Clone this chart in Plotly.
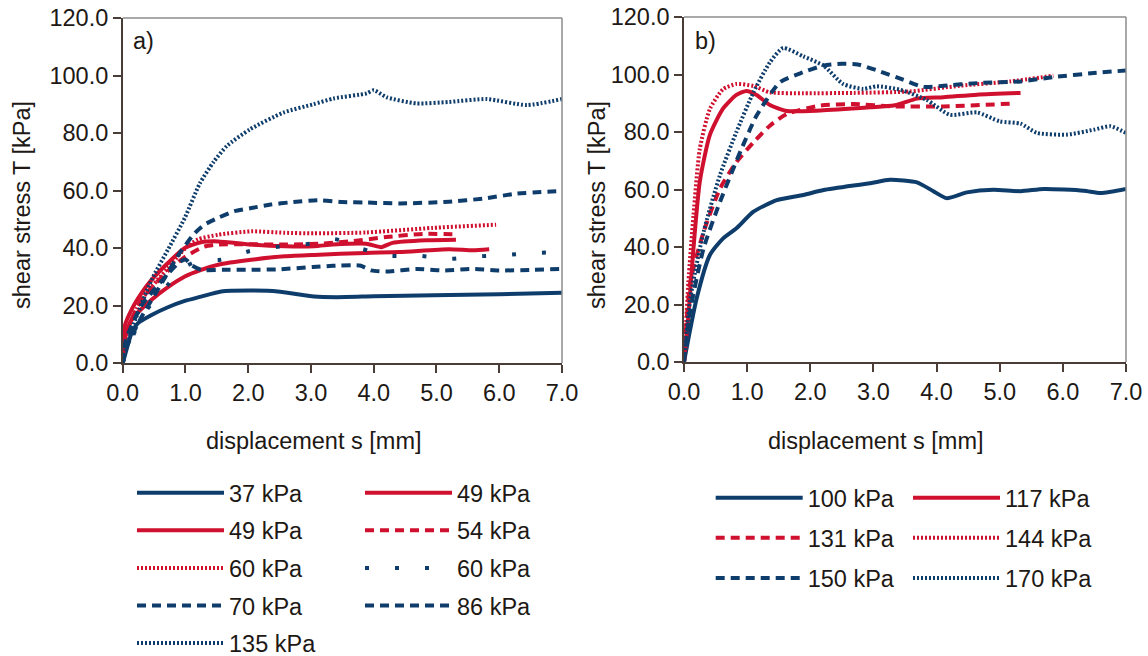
import plotly.graph_objects as go
from plotly.subplots import make_subplots

# figure is taller than the window so the legends at the bottom never push the margins
W, H = 1148, 700
NAVY = "#0f3d6b"
RED = "#d0102f"
FONT = "Liberation Sans, Arial, sans-serif"
TXT = "#201814"
FS = 23.5

# ---- panel a) : displacement s [mm] / shear stress T [kPa]
s37 = [0, 0.03, 0.14, 0.24, 0.46, 0.72, 0.99, 1.25, 1.57, 2.05, 2.47, 3.05, 3.41, 4.0, 4.95, 6.0, 7.0]
t37 = [0, 2.2, 10.4, 13.8, 16.7, 19.4, 21.6, 23.1, 24.9, 25.2, 24.9, 23.1, 22.9, 23.2, 23.6, 23.9, 24.4]

s49a = [0, 0.03, 0.14, 0.3, 0.46, 0.72, 0.99, 1.25, 1.52, 2.05, 2.58, 3.05, 3.35, 3.88, 4.12, 4.3, 4.84, 5.31]
t49a = [0, 12.7, 18.5, 24.3, 28.9, 34.8, 40.0, 42.0, 42.3, 41.2, 40.6, 40.6, 41.2, 41.5, 40.3, 41.8, 42.7, 42.9]

s49b = [0, 0.03, 0.14, 0.46, 0.72, 0.99, 1.25, 1.52, 2.05, 2.58, 3.05, 3.88, 4.41, 5.2, 5.58, 5.84]
t49b = [0, 8.0, 15.0, 22.0, 26.4, 30.1, 32.4, 34.2, 35.9, 37.1, 37.6, 38.3, 38.6, 39.6, 39.2, 39.6]

s54 = [0, 0.05, 0.3, 0.72, 1.0, 1.3, 1.5, 2.0, 2.6, 3.14, 3.62, 4.2, 4.78, 5.3]
t54 = [0, 10.0, 22.0, 32.0, 37.0, 40.5, 41.2, 41.3, 41.2, 41.5, 42.3, 43.8, 44.9, 44.8]

s60r = [0, 0.05, 0.3, 0.72, 1.0, 1.2, 1.52, 2.05, 2.58, 3.05, 3.88, 4.94, 5.95]
t60r = [0, 10.0, 22.0, 33.0, 40.0, 43.0, 44.6, 45.8, 45.3, 45.1, 45.4, 47.0, 48.1]

s60n = [0, 0.3, 0.72, 0.96, 1.2, 1.56, 2.0, 2.5, 3.0, 3.38, 3.8, 4.25, 4.73, 5.2, 5.67, 6.13, 6.6, 6.9]
t60n = [0, 16.0, 27.2, 33.0, 35.5, 35.9, 38.8, 40.5, 41.5, 43.1, 39.8, 37.3, 37.3, 36.2, 37.1, 37.6, 38.3, 38.5]

s70 = [0, 0.05, 0.3, 0.6, 0.9, 1.0, 1.1, 1.25, 1.6, 2.05, 2.5, 3.03, 3.35, 3.78, 3.96, 4.2, 4.68, 5.1, 5.58, 6.0, 6.53, 6.96]
t70 = [0, 8.0, 20.0, 28.0, 35.0, 36.0, 34.0, 32.4, 32.4, 32.4, 32.6, 33.4, 33.8, 33.9, 32.2, 31.8, 32.7, 32.2, 32.7, 32.2, 32.4, 32.7]

s86 = [0, 0.05, 0.3, 0.6, 0.9, 1.15, 1.3, 1.52, 1.78, 2.05, 2.36, 2.68, 3.14, 3.5, 3.89, 4.42, 5.2, 5.75, 6.28, 7.0]
t86 = [0, 5.0, 16.0, 27.0, 38.0, 45.2, 48.1, 50.5, 52.8, 53.9, 55.1, 55.9, 56.6, 56.0, 55.8, 55.5, 56.1, 57.2, 58.9, 59.8]

s135 = [0, 0.05, 0.2, 0.46, 0.72, 0.99, 1.23, 1.45, 1.66, 2.03, 2.56, 3.04, 3.36, 3.89, 4.0, 4.21, 4.68, 5.2, 5.8, 6.44, 7.0]
t135 = [0, 5.0, 15.0, 28.9, 39.4, 50.5, 62.5, 70.0, 75.5, 81.3, 87.1, 90.0, 92.0, 93.8, 94.9, 92.4, 90.3, 90.8, 91.8, 89.7, 91.8]

# ---- panel b)
s100 = [0, 0.2, 0.41, 0.62, 0.83, 1.1, 1.47, 1.89, 2.21, 2.95, 3.26, 3.69, 3.95, 4.16, 4.48, 4.9, 5.33, 5.7, 6.33, 6.6, 7.0]
t100 = [0, 22.1, 37.2, 43.0, 46.5, 52.3, 56.3, 58.1, 59.8, 62.2, 63.4, 62.5, 59.4, 57.0, 59.0, 59.9, 59.4, 60.2, 59.6, 58.8, 60.2]

s117 = [0, 0.07, 0.15, 0.25, 0.41, 0.62, 0.83, 0.99, 1.15, 1.36, 1.63, 2.16, 2.95, 3.32, 3.47, 3.69, 4.11, 4.64, 5.33]
t117 = [0, 16.3, 39.5, 62.7, 79.0, 88.2, 92.9, 94.3, 92.9, 89.4, 87.3, 87.5, 88.6, 89.2, 90.1, 91.6, 92.1, 93.0, 93.6]

s131 = [0, 0.1, 0.31, 0.57, 0.83, 1.1, 1.36, 1.63, 2.16, 2.69, 3.32, 4.11, 5.22]
t131 = [0, 27.9, 45.2, 60.3, 69.5, 76.4, 82.2, 86.3, 89.2, 89.7, 88.9, 88.9, 89.9]

s144 = [0, 0.07, 0.15, 0.25, 0.41, 0.62, 0.83, 1.1, 1.36, 1.89, 2.69, 3.58, 4.37, 5.17, 5.85]
t144 = [0, 27.9, 51.0, 74.1, 88.0, 94.9, 96.7, 96.0, 93.8, 93.5, 93.6, 94.1, 96.1, 97.6, 99.6]

s150 = [0, 0.1, 0.31, 0.57, 0.91, 1.15, 1.52, 1.89, 2.21, 2.5, 2.75, 3.1, 3.47, 3.79, 4.11, 4.64, 5.33, 5.85, 6.49, 7.0]
t150 = [0, 18.0, 39.5, 55.7, 74.1, 85.7, 97.3, 100.8, 103.1, 103.7, 103.5, 101.1, 98.2, 95.7, 96.1, 97.0, 97.6, 99.1, 100.5, 101.4]

s170 = [0, 0.1, 0.31, 0.57, 0.83, 1.1, 1.36, 1.57, 1.89, 2.21, 2.52, 2.84, 3.05, 3.42, 3.84, 4.21, 4.64, 5.0, 5.33, 5.59, 6.07, 6.49, 6.75, 7.0]
t170 = [0, 22.1, 45.2, 65.0, 80.0, 93.8, 104.2, 109.2, 106.3, 103.1, 96.7, 95.0, 95.9, 94.7, 91.2, 86.0, 86.8, 83.7, 82.9, 79.7, 79.1, 80.8, 82.0, 79.7]

SOLID = "solid"
DASH = "9px,6px"
DOT = "2px,2px"
SPARSE = "4px,26px"

# (x, y, label, colour, dash, legend column)
series_a = [
    (s37, t37, "37 kPa", NAVY, SOLID, "legend"),
    (s49a, t49a, "49 kPa", RED, SOLID, "legend2"),
    (s49b, t49b, "49 kPa", RED, SOLID, "legend"),
    (s54, t54, "54 kPa", RED, DASH, "legend2"),
    (s60r, t60r, "60 kPa", RED, DOT, "legend"),
    (s60n, t60n, "60 kPa", NAVY, SPARSE, "legend2"),
    (s70, t70, "70 kPa", NAVY, DASH, "legend"),
    (s86, t86, "86 kPa", NAVY, DASH, "legend2"),
    (s135, t135, "135 kPa", NAVY, DOT, "legend"),
]
series_b = [
    (s100, t100, "100 kPa", NAVY, SOLID, "legend3"),
    (s117, t117, "117 kPa", RED, SOLID, "legend4"),
    (s131, t131, "131 kPa", RED, DASH, "legend3"),
    (s144, t144, "144 kPa", RED, DOT, "legend4"),
    (s150, t150, "150 kPa", NAVY, DASH, "legend3"),
    (s170, t170, "170 kPa", NAVY, DOT, "legend4"),
]

fig = make_subplots(rows=1, cols=2)

k = 0
for col, series in ((1, series_a), (2, series_b)):
    for x, y, name, color, dash, leg in series:
        k += 1
        fig.add_trace(go.Scatter(
            x=x, y=y, mode="lines", name=name, legend=leg, legendgroup=f"g{k}",
            line=dict(color=color, width=4, dash=dash, shape="spline", smoothing=0.6),
        ), row=1, col=col)

# window pixel -> paper coordinate
def px_x(p):
    return p / W

def px_y(p):
    return 1 - p / H

axis_common = dict(
    showgrid=False, zeroline=False, showline=True, linecolor="#4a3c36", linewidth=1.5,
    ticks="outside", ticklen=8, tickwidth=1.5, tickcolor="#4a3c36", automargin=False,
    ticklabeloverflow="allow",
    tickfont=dict(family=FONT, size=FS, color=TXT), tickformat=".1f",
)

fig.update_xaxes(range=[0, 7], dtick=1, **axis_common)
fig.update_yaxes(range=[0, 120], dtick=20, **axis_common)
fig.update_layout(
    xaxis=dict(domain=[px_x(122.7), px_x(562)]),
    xaxis2=dict(domain=[px_x(684), px_x(1126)]),
    yaxis=dict(domain=[px_y(363), px_y(18)]),
    yaxis2=dict(domain=[px_y(362), px_y(17)]),
)

# lighter box on top and right
for xr, yr in (("x domain", "y domain"), ("x2 domain", "y2 domain")):
    fig.add_shape(type="line", xref=xr, yref=yr, x0=0, x1=1, y0=1, y1=1,
                  line=dict(color="#8c8c8c", width=1.5))
    fig.add_shape(type="line", xref=xr, yref=yr, x0=1, x1=1, y0=0, y1=1,
                  line=dict(color="#8c8c8c", width=1.5))

ann_font = dict(family=FONT, size=FS, color=TXT)
annotations = [
    dict(text="a)", x=px_x(131), y=px_y(41)),
    dict(text="b)", x=px_x(693), y=px_y(41)),
]
for a in annotations:
    a.update(xref="paper", yref="paper", xanchor="left", yanchor="middle",
             showarrow=False, font=ann_font)
for cx in (313, 876):
    annotations.append(dict(text="displacement s [mm]", x=px_x(cx), y=px_y(441),
                            xref="paper", yref="paper", xanchor="center", yanchor="middle",
                            showarrow=False, font=ann_font))
for cx in (22, 597):
    annotations.append(dict(text="shear stress T [kPa]", x=px_x(cx), y=px_y(205),
                            xref="paper", yref="paper", xanchor="center", yanchor="middle",
                            textangle=-90, showarrow=False, font=ann_font))

leg_common = dict(orientation="v", xanchor="left", yanchor="top", bgcolor="rgba(0,0,0,0)",
                  borderwidth=0, itemwidth=87, font=dict(family=FONT, size=FS, color=TXT),
                  itemclick=False, itemdoubleclick=False)

fig.update_layout(
    width=W, height=H,
    margin=dict(l=0, r=0, t=0, b=0),
    paper_bgcolor="white", plot_bgcolor="white",
    font=dict(family=FONT, size=FS, color=TXT),
    showlegend=True,
    annotations=annotations,
    legend=dict(x=px_x(132), y=px_y(471), tracegroupgap=4, **leg_common),
    legend2=dict(x=px_x(360), y=px_y(471), tracegroupgap=4, **leg_common),
    legend3=dict(x=px_x(710.7), y=px_y(476), tracegroupgap=6.5, **leg_common),
    legend4=dict(x=px_x(908), y=px_y(476), tracegroupgap=6.5, **leg_common),
)

# drop the default page margin so the figure sits at the window's top-left corner
fig.write_html("out.html", config={"displayModeBar": False},
               post_script="document.body.style.margin = '0px';")
